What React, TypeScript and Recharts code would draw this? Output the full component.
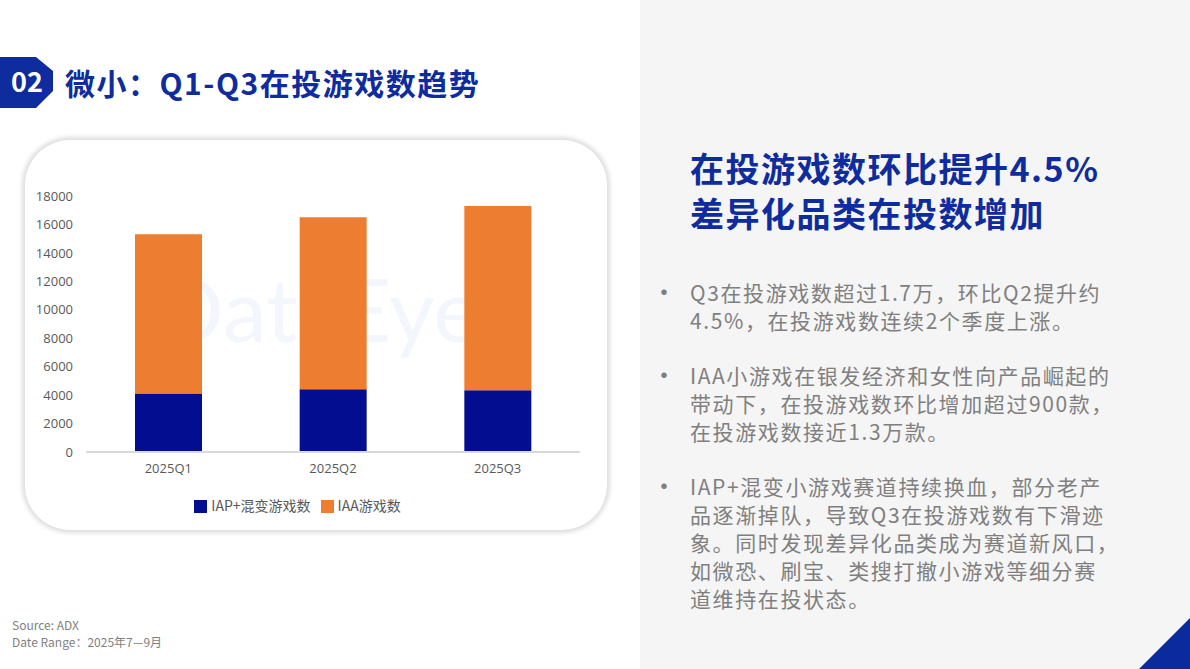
import { BarChart, Bar, XAxis, YAxis, Legend } from "recharts";

const quarters = ["2025Q1", "2025Q2", "2025Q3"];
const iapHybrid = [4110, 4410, 4340];
const iaa = [11200, 12100, 12960];
const yTicks = [0, 2000, 4000, 6000, 8000, 10000, 12000, 14000, 16000, 18000];

const bullets = [
  ["Q3在投游戏数超过1.7万，环比Q2提升约", "4.5%，在投游戏数连续2个季度上涨。"],
  ["IAA小游戏在银发经济和女性向产品崛起的", "带动下，在投游戏数环比增加超过900款，", "在投游戏数接近1.3万款。"],
  [
    "IAP+混变小游戏赛道持续换血，部分老产",
    "品逐渐掉队，导致Q3在投游戏数有下滑迹",
    "象。同时发现差异化品类成为赛道新风口，",
    "如微恐、刷宝、类搜打撤小游戏等细分赛",
    "道维持在投状态。",
  ],
];
const bulletTops = [292, 375, 486];
const seriesOrder = ["iap", "iaa"];

const BLUE = "#0f2c9e";
const CJK = '"Noto Sans CJK SC", "Noto Sans", sans-serif';

const chartData = quarters.map((q, i) => ({ name: q, iap: iapHybrid[i], iaa: iaa[i] }));

export default function App() {
  return (
    <div
      style={{
        position: "absolute",
        left: 0,
        top: 0,
        width: 1190,
        height: 669,
        background: "#ffffff",
        overflow: "hidden",
        fontFamily: CJK,
      }}
    >
      {/* right panel */}
      <div style={{ position: "absolute", left: 640, top: 0, width: 550, height: 669, background: "#f5f5f5" }} />

      {/* title */}
      <svg style={{ position: "absolute", left: 0, top: 0 }} width={60} height={120}>
        <polygon points="0,57 36,57 53,71 53,91 36,108 0,108" fill={BLUE} />
        <text x={27} y={92} textAnchor="middle" fill="#fff" fontSize={27} fontWeight={700} fontFamily={CJK}>
          02
        </text>
      </svg>
      <div
        style={{
          position: "absolute",
          left: 65,
          top: 62,
          fontSize: 30,
          lineHeight: "40px",
          fontWeight: 700,
          color: BLUE,
          letterSpacing: 1.5,
          whiteSpace: "nowrap",
        }}
      >
        微小：Q1-Q3在投游戏数趋势
      </div>

      {/* chart card */}
      <div
        style={{
          position: "absolute",
          left: 25,
          top: 140,
          width: 582,
          height: 390,
          borderRadius: 45,
          background: "#fff",
          boxShadow: "0 0 4px 3px rgba(0,0,0,0.13)",
        }}
      >
        <div
          style={{
            position: "absolute",
            left: 132,
            top: 118,
            fontSize: 88,
            lineHeight: "100px",
            fontFamily: "Lato, sans-serif",
            color: "#f3f6fc",
            whiteSpace: "nowrap",
          }}
        >
          DataEye
        </div>
        <div style={{ position: "absolute", left: 0, top: 30 }}>
          <BarChart
            width={582}
            height={360}
            data={chartData}
            margin={{ top: 26, right: 27, left: 0, bottom: 13 }}
            barSize={67}
          >
            <XAxis
              dataKey="name"
              axisLine={{ stroke: "#d9d9d9", strokeWidth: 2 }}
              tickLine={false}
              tickMargin={6}
              height={41}
              tick={{ fill: "#595959", fontSize: 13, fontFamily: "Open Sans, sans-serif" }}
            />
            <YAxis
              width={61}
              domain={[0, 18000]}
              ticks={yTicks}
              axisLine={false}
              tickLine={false}
              tickSize={6}
              tickMargin={7}
              tick={{ fill: "#595959", fontSize: 13, fontFamily: "Open Sans, sans-serif" }}
            />
            <Legend
              verticalAlign="bottom"
              iconType="square"
              iconSize={13}
              wrapperStyle={{ bottom: 14 }}
              itemSorter={(item: any) => seriesOrder.indexOf(String(item.dataKey))}
              formatter={(v) => <span style={{ color: "#595959", fontSize: 14, fontFamily: CJK }}>{v}</span>}
            />
            <Bar dataKey="iap" name="IAP+混变游戏数" stackId="a" fill="#020d8f" isAnimationActive={false} />
            <Bar dataKey="iaa" name="IAA游戏数" stackId="a" fill="#ed7d31" isAnimationActive={false} />
          </BarChart>
        </div>
      </div>

      {/* right heading */}
      <div
        style={{
          position: "absolute",
          left: 690,
          top: 145,
          fontSize: 34,
          lineHeight: "45px",
          fontWeight: 700,
          color: BLUE,
          letterSpacing: 1.5,
          whiteSpace: "nowrap",
        }}
      >
        <div>在投游戏数环比提升4.5%</div>
        <div>差异化品类在投数增加</div>
      </div>

      {/* bullets */}
      {bullets.map((lines, i) => (
        <div key={i} style={{ position: "absolute", left: 650, top: bulletTops[i] - 14, color: "#7f7f7f" }}>
          <div style={{ position: "absolute", left: 1, top: -1, fontSize: 26, lineHeight: "28px" }}>•</div>
          <div
            style={{
              position: "absolute",
              left: 40,
              top: 0,
              fontSize: 21,
              lineHeight: "28px",
              letterSpacing: 1.6,
              whiteSpace: "nowrap",
            }}
          >
            {lines.map((l, j) => (
              <div key={j}>{l}</div>
            ))}
          </div>
        </div>
      ))}

      {/* footer */}
      <div
        style={{
          position: "absolute",
          left: 12,
          top: 616,
          fontSize: 12,
          lineHeight: "17px",
          color: "#7f7f7f",
          fontFamily: CJK,
        }}
      >
        <div>Source: ADX</div>
        <div>Date Range：2025年7—9月</div>
      </div>

      {/* corner triangle */}
      <svg style={{ position: "absolute", left: 1130, top: 610 }} width={60} height={59}>
        <polygon points="60,8 60,59 9,59" fill="#0a2a9e" />
      </svg>
    </div>
  );
}
